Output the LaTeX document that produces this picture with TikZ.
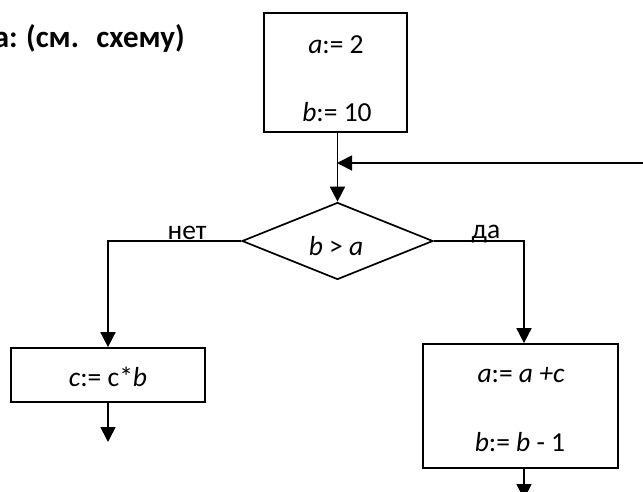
\documentclass[tikz,border=0pt]{standalone}
\usepackage{fontspec}
\setmainfont{Carlito}
\usetikzlibrary{arrows.meta,shapes.geometric}
\tikzset{
  box/.style={draw, line width=1.7pt, rectangle, inner sep=0pt},
  dia/.style={draw, line width=1.7pt, diamond, aspect=2.48, inner sep=0pt, minimum width=191pt, minimum height=77pt},
  txt/.style={inner sep=0pt, font=\fontsize{27.5}{32}\selectfont},
  ttl/.style={inner sep=0pt, font=\fontsize{31}{36}\selectfont\bfseries},
  arr/.style={line width=1.7pt, -{Triangle[length=15pt,width=15pt]}}
}
\begin{document}
\begin{tikzpicture}[x=1pt,y=-1pt]
\useasboundingbox (0,0) rectangle (643,492);
\clip (0,0) rectangle (643,492);
% title (cut off at the left edge)
\node[ttl, anchor=base east] (title) at (185,48) {а:\hspace{-1pt} (см.\hspace{8pt} схему)};
% boxes
\node[box, minimum width=143pt, minimum height=119pt] (top) at (335.5,72.5) {};
\node[txt] (t1) at (336,45) {\textit{a}:= 2};
\node[txt] (t2) at (337,112) {\textit{b}:= 10};
\node[dia] (cond) at (337.5,241) {};
\node[txt] (ct) at (336,246) {\textit{b} > \textit{a}};
\node[box, minimum width=194pt, minimum height=54pt] (cbox) at (108,375) {};
\node[txt] (c1) at (108,377) {\textit{c}:= c*\textit{b}};
\node[box, minimum width=195pt, minimum height=124pt] (rbox) at (520.5,406) {};
\node[txt] (r1) at (521,375) {\textit{a}:= \textit{a +c}};
\node[txt] (r2) at (520,442) {\textit{b}:= \textit{b} - 1};
% labels
\node[txt, anchor=base] (no) at (187,239) {нет};
\node[txt, anchor=base] (yes) at (486,238) {да};
% coordinates
\coordinate (fbstart) at (643,163);
\coordinate (fbend) at (337,163);
\coordinate (cout) at (108,442);
\coordinate (rout) at (524,499);
% connectors
\draw[arr] (top.south -| cond.north) -- (cond.north);
\draw[arr] (fbstart) -- (fbend);
\draw[arr] (cond.west) -| (cbox.north);
\draw[arr] (cond.east) -| ([xshift=3.5pt]rbox.north);
\draw[arr] (cbox.south) -- (cout);
\draw[arr] ([xshift=3.5pt]rbox.south) -- (rout);
\end{tikzpicture}
\end{document}
